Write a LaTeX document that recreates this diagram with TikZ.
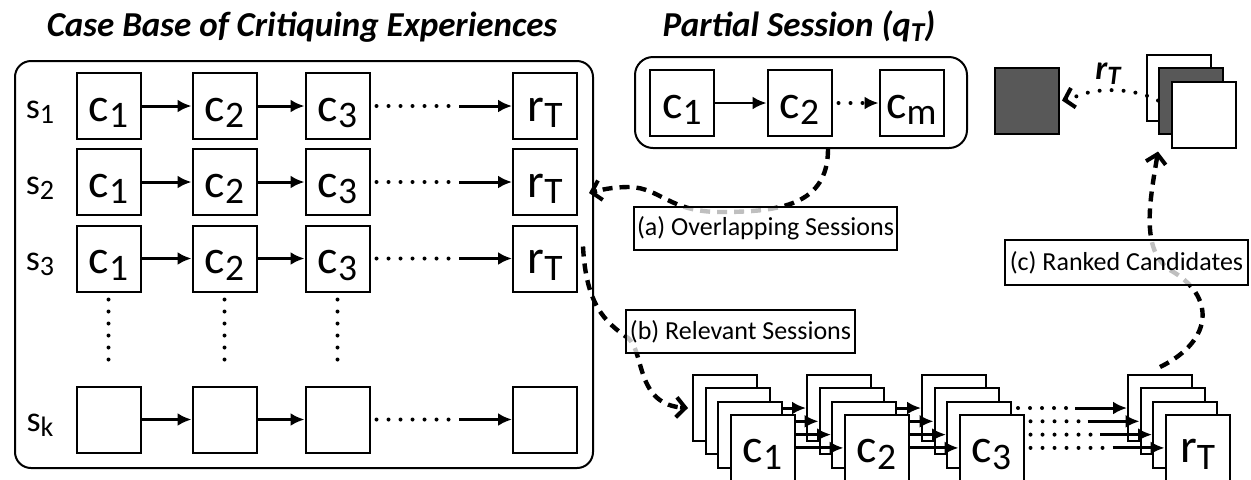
\documentclass[tikz,border=0pt]{standalone}
\usepackage{fontspec}
\setmainfont{Carlito}
\usetikzlibrary{arrows.meta,calc}

% lowered, smaller index text (c_1, r_T, ...)
\newcommand\lowtxt[1]{\raisebox{-0.3ex}{\scalebox{0.78}{#1}}}
\newcommand\cellfont{\fontsize{24}{24}\selectfont}
\newcommand\rowfont{\fontsize{18}{18}\selectfont}
\newcommand\headfont{\fontsize{17.5}{18}\selectfont\bfseries\itshape}
\newcommand\tagfont{\fontsize{13}{13}\selectfont}
\definecolor{darkcell}{HTML}{585858}

\tikzset{
  cell/.style={draw, line width=1pt, fill=white, minimum width=32pt,
    minimum height=33pt, inner sep=0pt, font=\cellfont,
    text height=16pt, text depth=1pt},
  flow/.style={line width=1.5pt, -{Latex[length=7pt,width=6.5pt]}},
  dotline/.style={line width=2pt, line cap=round, dash pattern=on 0pt off 6pt},
  link/.style={line width=2.2pt, dash pattern=on 5pt off 3.5pt, shorten >=2pt},
  barb/.style={line width=2pt, -{Straight Barb[length=4.5pt,width=10pt]}},
  tag/.style={draw, line width=1pt, fill=white, fill opacity=0.75,
    text opacity=1, font=\tagfont, inner sep=0pt},
  rowlab/.style={font=\rowfont},
  frame/.style={draw, line width=1pt, rounded corners=8pt, inner sep=0pt}
}

\begin{document}
\begin{tikzpicture}[x=0.5pt,y=-0.5pt]
\useasboundingbox (0,0) rectangle (1251,479);

% headings
\node[font=\headfont] (h1) at (302,27) {Case Base of Critiquing Experiences};
\node[font=\headfont] (h2) at (799,26) {Partial Session (q\lowtxt{T})};

% case base container
\node[frame, minimum width=289pt, minimum height=203.5pt] (cb) at (304,264.5) {};

% session rows
\foreach \r/\y/\lab in {1/106/{s\lowtxt{1}}, 2/182/{s\lowtxt{2}}, 3/258.5/{s\lowtxt{3}}} {
  \node[rowlab] (s\r) at (40,\y+6) {\lab};
  \node[cell] (r\r a) at (108.5,\y) {c\lowtxt{1}};
  \node[cell] (r\r b) at (224.5,\y) {c\lowtxt{2}};
  \node[cell] (r\r c) at (337.5,\y) {c\lowtxt{3}};
  \node[cell] (r\r t) at (545,\y) {r\lowtxt{T}};
}
\node[rowlab] (sk) at (40,425.5) {s\lowtxt{k}};
\node[cell] (rka) at (108.5,419.5) {};
\node[cell] (rkb) at (224.5,419.5) {};
\node[cell] (rkc) at (337.5,419.5) {};
\node[cell] (rkt) at (545,419.5) {};

\foreach \r in {1,2,3,k} {
  \draw[flow] (r\r a) -- (r\r b);
  \draw[flow] (r\r b) -- (r\r c);
  \draw[dotline] ($(r\r c.east)+(6,0)$) -- ($(r\r t.west)+(-58,0)$);
  \draw[flow] ($(r\r t.west)+(-53,0)$) -- (r\r t.west);
}
\foreach \c in {a,b,c}
  \draw[dotline] ($(r3\c.south)+(0,7)$) -- ($(rk\c.north)+(0,-15)$);

% partial session
\node[frame, rounded corners=9pt, minimum width=166pt, minimum height=45.5pt] (pb) at (801,102.5) {};
\node[cell] (p1) at (682,103) {c\lowtxt{1}};
\node[cell] (p2) at (799.5,103) {c\lowtxt{2}};
\node[cell] (pm) at (911.5,103) {c\lowtxt{m}};
\draw[flow, line width=1.3pt] (p1) -- (p2);
\draw[dotline] ($(p2.east)+(6,0)$) -- ($(pm.west)+(-14,0)$);
\draw[flow, line width=1.3pt] ($(pm.west)+(-4,0)$) -- (pm.west);

% recommended item and ranked candidates
\node[cell, fill=darkcell] (gsq) at (1027,100.5) {};
\node[cell] (tB) at (1178.5,87.5) {};
\node[cell, fill=darkcell] (tM) at (1191,100.5) {};
\node[cell] (tF) at (1203.5,114.5) {};
\draw[dotline] (tM.west) .. controls (1130,86) and (1090,88) .. ($(gsq.east)+(12,-2)$);
\draw[barb] ($(gsq.east)+(8,-1.5)$) -- ($(gsq.east)+(2,0)$);
\node[font=\headfont\fontsize{17}{17}\selectfont] (rt) at (1108,74) {r\lowtxt{T}};

% stacks of relevant sessions
\foreach \i in {0,...,3}
  \node[cell] (A\i) at ({693+12.5*\i+32},{375+13.3*\i+33}) {\ifnum\i=3 c\lowtxt{1}\fi};
\foreach \i in {0,...,3}
  \node[cell] (B\i) at ({807+12.5*\i+32},{375+13.3*\i+33}) {\ifnum\i=3 c\lowtxt{2}\fi};
\foreach \i/\j in {0/2,1/3,2/3,3/3}
  \draw[flow] (A\j.east |- A\i.center) -- (B\i.west);
\foreach \i in {0,...,3}
  \node[cell] (C\i) at ({922+12.5*\i+32},{375+13.3*\i+33}) {\ifnum\i=3 c\lowtxt{3}\fi};
\foreach \i/\j in {0/2,1/3,2/3,3/3}
  \draw[flow] (B\j.east |- B\i.center) -- (C\i.west);
\foreach \i in {0,...,3}
  \node[cell] (D\i) at ({1128+12.5*\i+32},{375+13.3*\i+33}) {\ifnum\i=3 r\lowtxt{T}\fi};
\foreach \i/\j in {0/2,1/3,2/3,3/3} {
  \draw[dotline] ($(C\j.east |- C\i.center)+(6,0)$) -- ($(D\i.west)+(-60,0)$);
  \draw[flow] ($(D\i.west)+(-52,0)$) -- (D\i.west);
}

% retrieval steps
\coordinate (ea) at ($(cb.east |- r2t.center)+(-5,11)$);
\coordinate (eb) at ($(A0.west)+(-4,0)$);
\coordinate (ec) at ($(tM.south west)+(0,17)$);
\draw[link] ($(pb.south)+(27,0)$) .. controls (828,205) and (780,212) .. (720,212)
  .. controls (670,212) and (660,188) .. (630,187)
  .. controls (612,187) and (600,190) .. (ea);
\draw[barb] ($(ea)+(8,-2)$) -- (ea);
\draw[link] ($(r3t.east)+(5,-12)$) .. controls (586,305) and (605,322) .. (628,338)
  .. controls (645,352) and (635,405) .. (eb);
\draw[barb] ($(eb)+(-8,-0.5)$) -- (eb);
\draw[link] ($(D0.north)+(0,-7)$) .. controls (1215,340) and (1215,295) .. (1170,270)
  .. controls (1140,250) and (1150,200) .. (ec);
\draw[barb] ($(ec)+(-1.5,8)$) -- (ec);

\node[tag, minimum width=131.5pt, minimum height=21.5pt] (ta) at (765.5,228.5) {(a) Overlapping Sessions};
\node[tag, minimum width=114.5pt, minimum height=21.5pt] (tb) at (740.5,331.5) {(b) Relevant Sessions};
\node[tag, minimum width=121.5pt, minimum height=22.5pt] (tc) at (1126.5,262.5) {(c) Ranked Candidates};
\end{tikzpicture}
\end{document}
